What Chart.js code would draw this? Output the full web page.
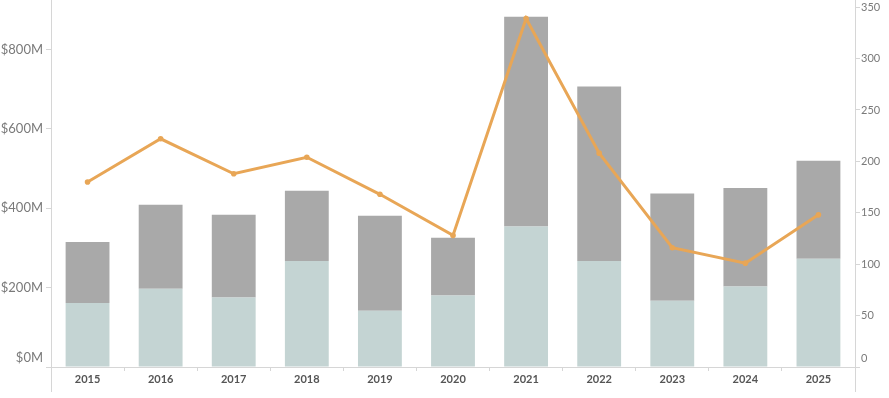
<!DOCTYPE html>
<html lang="en">
<head>
    <meta charset="UTF-8">
    <title>Funding and deal count by year</title>
    <script src="https://cdn.jsdelivr.net/npm/chart.js"></script>
    <style>
        html, body {
            margin: 0;
            padding: 0;
            background: #ffffff;
        }
        .chart-container {
            width: 889px;
            height: 398px;
            position: relative;
        }
    </style>
</head>
<body>
    <div class="chart-container">
        <canvas id="comboChart"></canvas>
    </div>

    <script>
        // values
        const years = ['2015', '2016', '2017', '2018', '2019', '2020', '2021', '2022', '2023', '2024', '2025'];
        const lowerAmount = [161, 197, 175, 267, 142, 180, 354, 267, 167, 203, 273];   // $M, light part
        const upperAmount = [154, 212, 209, 177, 239, 146, 529, 440, 270, 248, 247];   // $M, grey part on top
        const dealCount = [180, 222, 188, 204, 168, 128, 339, 208, 116, 101, 148];
        const amountTicks = [0, 200, 400, 600, 800];
        const countTicks = [0, 50, 100, 150, 200, 250, 300, 350];

        const axisColor = '#d6d6d6';
        const labelColor = '#7a7a7a';

        // Tableau style axis lines that run past the plot area,
        // and y labels kept inside the plot (like Tableau does at the edges)
        const tableauAxes = {
            id: 'tableauAxes',
            afterDraw(chart) {
                const { ctx, chartArea } = chart;
                ctx.save();
                ctx.strokeStyle = axisColor;
                ctx.lineWidth = 1;
                ctx.beginPath();
                ctx.moveTo(chartArea.left + 0.5, chartArea.top);
                ctx.lineTo(chartArea.left + 0.5, chartArea.bottom + 25);
                ctx.moveTo(chartArea.right + 0.5, chartArea.top);
                ctx.lineTo(chartArea.right + 0.5, chartArea.bottom + 25);
                ctx.moveTo(chartArea.left - 5, chartArea.bottom + 0.5);
                ctx.lineTo(chartArea.right + 5, chartArea.bottom + 0.5);
                ctx.stroke();

                const clampY = y => Math.max(chartArea.top + 7, Math.min(chartArea.bottom - 9, y));
                ctx.fillStyle = labelColor;
                ctx.textBaseline = 'middle';

                const left = chart.scales.y;
                ctx.font = '13px Lato';
                ctx.textAlign = 'right';
                amountTicks.forEach(v => {
                    ctx.fillText('$' + v + 'M', chartArea.left - 8, clampY(left.getPixelForValue(v)));
                });

                const right = chart.scales.y1;
                ctx.font = '11px Lato';
                ctx.textAlign = 'left';
                countTicks.forEach(v => {
                    ctx.fillText(String(v), chartArea.right + 6, clampY(right.getPixelForValue(v)));
                });
                ctx.restore();
            }
        };

        const ctx = document.getElementById('comboChart').getContext('2d');
        new Chart(ctx, {
            type: 'bar',
            data: {
                labels: years,
                datasets: [
                    {
                        type: 'line',
                        label: 'Deals',
                        data: dealCount,
                        yAxisID: 'y1',
                        borderColor: '#e8a656',
                        backgroundColor: '#e8a656',
                        borderWidth: 3,
                        pointRadius: 2.8,
                        pointBorderWidth: 0,
                        pointHoverRadius: 4,
                        tension: 0,
                        order: 0
                    },
                    {
                        label: 'Lower',
                        data: lowerAmount,
                        yAxisID: 'y',
                        backgroundColor: '#c4d4d3',
                        barPercentage: 0.6,
                        categoryPercentage: 1,
                        order: 1
                    },
                    {
                        label: 'Upper',
                        data: upperAmount,
                        yAxisID: 'y',
                        backgroundColor: '#a9a9a9',
                        barPercentage: 0.6,
                        categoryPercentage: 1,
                        order: 1
                    }
                ]
            },
            options: {
                responsive: true,
                maintainAspectRatio: false,
                animation: false,
                layout: { padding: 0, autoPadding: false },
                plugins: {
                    legend: { display: false },
                    tooltip: { enabled: false }
                },
                scales: {
                    x: {
                        stacked: true,
                        offset: true,
                        border: { display: false },
                        grid: {
                            offset: true,
                            drawOnChartArea: false,
                            drawTicks: true,
                            tickLength: 4,
                            color: axisColor
                        },
                        ticks: {
                            color: '#555555',
                            padding: 2,
                            maxRotation: 0,
                            font: { family: 'Lato', size: 11, weight: 'bold' }
                        },
                        afterFit(scale) {
                            scale.height = 31;
                            scale.paddingLeft = 0;
                            scale.paddingRight = 0;
                        }
                    },
                    y: {
                        stacked: true,
                        position: 'left',
                        min: 0,
                        max: 925,
                        border: { display: false },
                        grid: {
                            drawOnChartArea: false,
                            drawTicks: true,
                            tickLength: 5,
                            color: axisColor
                        },
                        afterBuildTicks(scale) {
                            scale.ticks = amountTicks.map(v => ({ value: v }));
                        },
                        ticks: { display: false },
                        afterFit(scale) {
                            scale.width = 51;
                            scale.paddingTop = 0;
                            scale.paddingBottom = 0;
                        }
                    },
                    y1: {
                        position: 'right',
                        min: 0,
                        max: 357,
                        border: { display: false },
                        grid: {
                            drawOnChartArea: false,
                            drawTicks: true,
                            tickLength: 5,
                            color: axisColor
                        },
                        afterBuildTicks(scale) {
                            scale.ticks = countTicks.map(v => ({ value: v }));
                        },
                        ticks: { display: false },
                        afterFit(scale) {
                            scale.width = 34;
                            scale.paddingTop = 0;
                            scale.paddingBottom = 0;
                        }
                    }
                }
            },
            plugins: [tableauAxes]
        });
    </script>
</body>
</html>
